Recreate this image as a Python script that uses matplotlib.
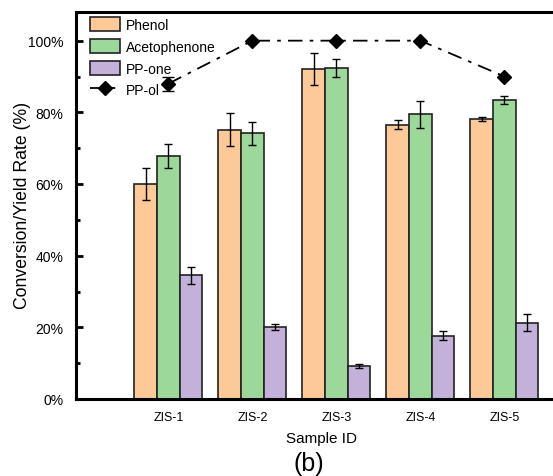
import numpy as np
import matplotlib
matplotlib.use("Agg")
import matplotlib.pyplot as plt
from matplotlib.ticker import MultipleLocator, FuncFormatter

plt.rcParams['font.family'] = ['Liberation Sans', 'DejaVu Sans']

samples = ["ZIS-1", "ZIS-2", "ZIS-3", "ZIS-4", "ZIS-5"]
phenol = [59.9, 75.2, 92.1, 76.6, 78.2]
phenol_err = [4.5, 4.7, 4.5, 1.2, 0.5]
aceto = [67.8, 74.2, 92.3, 79.4, 83.4]
aceto_err = [3.4, 3.2, 2.5, 3.8, 1.1]
ppone = [34.5, 20.1, 9.2, 17.7, 21.3]
ppone_err = [2.3, 0.8, 0.5, 1.3, 2.4]
ppol = [88.0, 100.0, 100.0, 100.0, 90.0]
ppol_err = [2.0, 0, 0, 0, 0]

W, H = 553, 477
fig = plt.figure(figsize=(W / 100, H / 100), dpi=100)
# axes runs past the right edge of the image, like the cropped original
ax = fig.add_axes([76 / W, 1 - 400 / H, 504 / W, 387 / H])

x = np.arange(1, len(samples) + 1)
w = 0.27
ekw = dict(ecolor='black', capsize=3, elinewidth=1, capthick=1)
b1 = ax.bar(x - w, phenol, w, yerr=phenol_err, color='#FDC998', edgecolor='#222222',
            linewidth=1.2, label='Phenol', error_kw=ekw, zorder=2)
b2 = ax.bar(x, aceto, w, yerr=aceto_err, color='#9DD89B', edgecolor='#222222',
            linewidth=1.2, label='Acetophenone', error_kw=ekw, zorder=2)
b3 = ax.bar(x + w, ppone, w, yerr=ppone_err, color='#C3B1D9', edgecolor='#222222',
            linewidth=1.2, label='PP-one', error_kw=ekw, zorder=2)
ax.errorbar(x, ppol, yerr=ppol_err, fmt='none', ecolor='black', capsize=4,
            elinewidth=1, zorder=3)
ln, = ax.plot(x, ppol, color='black', linestyle=(0, (8, 4, 2, 4)), linewidth=1.3,
              marker='D', markersize=7, label='PP-ol', zorder=3)

# 84 px per category
ax.set_xlim(-0.1, -0.1 + 504 / 84)
ax.set_ylim(0, 108)
ax.set_xticks(x)
ax.set_xticklabels(samples, fontsize=9)
ax.tick_params(axis='x', length=0, pad=9)
ax.yaxis.set_major_locator(MultipleLocator(20))
ax.yaxis.set_minor_locator(MultipleLocator(10))
ax.yaxis.set_major_formatter(FuncFormatter(lambda v, p: f"{int(v)}%"))
ax.tick_params(axis='y', which='major', direction='in', length=5, width=2,
               labelsize=10, pad=9)
ax.tick_params(axis='y', which='minor', direction='in', length=3, width=2)

for s in ax.spines.values():
    s.set_linewidth(2.2)
ax.spines['right'].set_visible(False)

ax.set_xlabel("Sample ID", fontsize=11)
ax.xaxis.set_label_coords(322 / W, 1 - 432 / H, transform=fig.transFigure)
ax.set_ylabel("Conversion/Yield Rate (%)", fontsize=12.7)
ax.yaxis.set_label_coords(31 / W, 1 - 205 / H, transform=fig.transFigure)
fig.text(309 / W, 1 - 464 / H, "(b)", fontsize=18, ha='center', va='center')

ax.legend(handles=[b1, b2, b3, ln], loc='upper left', frameon=False, fontsize=10,
          handlelength=2.2, handleheight=1.2, labelspacing=0.5, borderaxespad=0.2,
          handletextpad=0.4, bbox_to_anchor=(0.011, 1.008))

fig.savefig("out.png", dpi=100)
